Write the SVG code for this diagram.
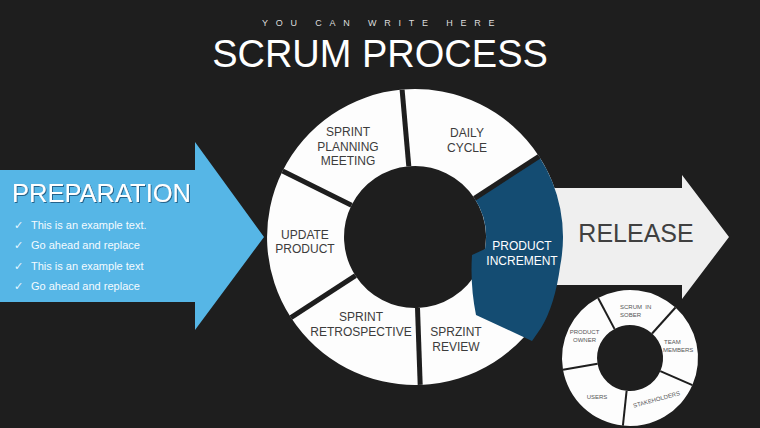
<svg xmlns="http://www.w3.org/2000/svg" width="760" height="428" viewBox="0 0 760 428">
<defs>
<style>
.bg{fill:#1e1e1e}
.seg{fill:#fdfdfd}
.gap{stroke:#1e1e1e;stroke-width:5;fill:none}
.gaps{stroke:#1e1e1e;stroke-width:2;fill:none}
.lbl{font-family:"Liberation Sans",Arial,sans-serif;font-size:12px;fill:#3c3c3c;text-anchor:middle}
.sl{font-family:"Liberation Sans",Arial,sans-serif;font-size:6px;fill:#555555}
.bul{font-family:"Liberation Sans",Arial,sans-serif;font-size:11px;fill:#f4fbff}
.chk{font-family:"DejaVu Sans",sans-serif;font-size:11px;fill:#e6f6ff}
</style>
<filter id="sh" x="-10%" y="-30%" width="120%" height="160%">
<feDropShadow dx="1" dy="1" stdDeviation="0.6" flood-color="#1d5a80" flood-opacity="0.9"/>
</filter>
</defs>
<rect class="bg" x="0" y="0" width="760" height="428"/>

<g id="header">
<text x="262" y="26" font-family="Liberation Sans,Arial,sans-serif" font-size="9" letter-spacing="7.8" fill="#dddddd">YOU CAN WRITE HERE</text>
<text x="380" y="67" font-family="Liberation Sans,Arial,sans-serif" font-size="38" fill="#ffffff" text-anchor="middle">SCRUM PROCESS</text>
</g>

<g id="preparation">
<polygon points="0,170 195,170 195,142 264,237 195,330 195,302 0,302" fill="#56b6e6"/>
<text x="12" y="202" font-family="Liberation Sans,Arial,sans-serif" font-size="25.5" fill="#ffffff" filter="url(#sh)">PREPARATION</text>
<text class="chk" x="14" y="229">✓</text>
<text class="bul" x="31" y="229">This is an example text.</text>
<text class="chk" x="14" y="249">✓</text>
<text class="bul" x="31" y="249">Go ahead and replace</text>
<text class="chk" x="14" y="270">✓</text>
<text class="bul" x="31" y="270">This is an example text</text>
<text class="chk" x="14" y="290">✓</text>
<text class="bul" x="31" y="290">Go ahead and replace</text>
</g>

<g id="release">
<polygon points="520,188 682,188 682,175 729,237 682,299 682,285 520,285" fill="#efefef"/>
<text x="636" y="242" font-family="Liberation Sans,Arial,sans-serif" font-size="25" fill="#404040" text-anchor="middle">RELEASE</text>
</g>

<g id="update-product">
<path class="seg" d="M290.9,317.6 A148,148 0 0 1 282.6,171 L351.5,205.3 A71,71 0 0 0 355.5,275.7 Z"/>
<text class="lbl" x="305" y="239">UPDATE</text>
<text class="lbl" x="305" y="253">PRODUCT</text>
</g>
<g id="sprint-planning">
<path class="seg" d="M282.6,171 A148,148 0 0 1 402.1,89.6 L408.8,166.3 A71,71 0 0 0 351.5,205.3 Z"/>
<text class="lbl" x="348" y="136">SPRINT</text>
<text class="lbl" x="348" y="150.5">PLANNING</text>
<text class="lbl" x="348" y="165">MEETING</text>
</g>
<g id="daily-cycle">
<path class="seg" d="M402.1,89.6 A148,148 0 0 1 539.1,156.4 L474.5,198.3 A71,71 0 0 0 408.8,166.3 Z"/>
<text class="lbl" x="467" y="137">DAILY</text>
<text class="lbl" x="467" y="152">CYCLE</text>
</g>
<g id="sprint-review">
<path class="seg" d="M539.1,156.4 A148,148 0 0 1 420.2,384.9 L417.5,308 A71,71 0 0 0 474.5,198.3 Z"/>
<text class="lbl" x="456" y="336">SPRZINT</text>
<text class="lbl" x="456" y="351">REVIEW</text>
</g>
<g id="sprint-retrospective">
<path class="seg" d="M420.2,384.9 A148,148 0 0 1 290.9,317.6 L355.5,275.7 A71,71 0 0 0 417.5,308 Z"/>
<text class="lbl" x="361" y="321">SPRINT</text>
<text class="lbl" x="361" y="336">RETROSPECTIVE</text>
</g>
<g id="product-increment">
<path d="M474.5,198.3 L539.1,156.4 A148,148 0 0 1 560.3,265.2 Q555,305 541,328 L532,341 L476,315 Q470,285 472,255 L485,249 A71,71 0 0 0 474.5,198.3 Z" fill="#144c72"/>
<text class="lbl" x="522" y="250" style="fill:#ffffff">PRODUCT</text>
<text class="lbl" x="522" y="265" style="fill:#ffffff">INCREMENT</text>
</g>

<g id="connectors">
<line class="gap" x1="290.9" y1="317.6" x2="355.5" y2="275.7"/>
<line class="gap" x1="282.6" y1="171" x2="351.5" y2="205.3"/>
<line class="gap" x1="402.1" y1="89.6" x2="408.8" y2="166.3"/>
<line class="gap" x1="539.1" y1="156.4" x2="474.5" y2="198.3"/>
<line class="gap" x1="420.2" y1="384.9" x2="417.5" y2="308"/>
</g>

<g id="product-owner">
<path class="seg" d="M563,369.8 A68,68 0 0 1 598.1,298 L614.5,328.9 A33,33 0 0 0 597.5,363.7 Z"/>
<text class="sl" x="584.5" y="334" text-anchor="middle">PRODUCT</text>
<text class="sl" x="584.5" y="342" text-anchor="middle">OWNER</text>
</g>
<g id="scrum-in-sober">
<path class="seg" d="M598.1,298 A68,68 0 0 1 675.5,307.5 L652.1,333.5 A33,33 0 0 0 614.5,328.9 Z"/>
<text class="sl" x="620" y="308.5" xml:space="preserve">SCRUM  IN</text>
<text class="sl" x="620" y="316.5">SOBER</text>
</g>
<g id="team-members">
<path class="seg" d="M675.5,307.5 A68,68 0 0 1 692.4,385.1 L660.3,371.2 A33,33 0 0 0 652.1,333.5 Z"/>
<text class="sl" x="664" y="344">TEAM</text>
<text class="sl" x="663" y="352">MEMBERS</text>
</g>
<g id="stakeholders">
<path class="seg" d="M692.4,385.1 A68,68 0 0 1 622.9,425.6 L626.6,390.8 A33,33 0 0 0 660.3,371.2 Z"/>
<text class="sl" x="656.5" y="401.5" text-anchor="middle" transform="rotate(-15.5 656.5 399.5)">STAKEHOLDERS</text>
</g>
<g id="users">
<path class="seg" d="M622.9,425.6 A68,68 0 0 1 563,369.8 L597.5,363.7 A33,33 0 0 0 626.6,390.8 Z"/>
<text class="sl" x="597" y="399" text-anchor="middle">USERS</text>
</g>
<g id="small-dividers">
<line class="gaps" x1="563" y1="369.8" x2="597.5" y2="363.7"/>
<line class="gaps" x1="598.1" y1="298" x2="614.5" y2="328.9"/>
<line class="gaps" x1="675.5" y1="307.5" x2="652.1" y2="333.5"/>
<line class="gaps" x1="692.4" y1="385.1" x2="660.3" y2="371.2"/>
<line class="gaps" x1="622.9" y1="425.6" x2="626.6" y2="390.8"/>
</g>
</svg>
